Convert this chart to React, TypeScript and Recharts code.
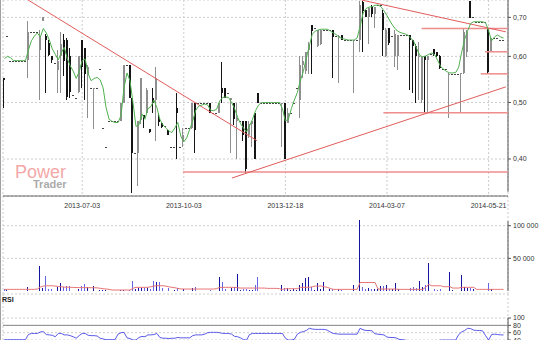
import { Bar, CartesianGrid, ComposedChart, Line, ReferenceLine, XAxis, YAxis } from "recharts";

// bar index of each labelled date (the x axis counts trading bars, not days)
const dateTicks = [26, 60, 94, 128, 162];
const dateLabels = ["2013-07-03", "2013-10-03", "2013-12-18", "2014-03-07", "2014-05-21"];
const priceTicks = [0.4, 0.5, 0.6, 0.7];
const volumeTicks = [50000, 100000];
const rsiTicks = [0, 20, 40, 60, 80, 100];

const opens = [
  0.55, 0.65, 0.59, 0.59, 0.59, 0.59, 0.59, 0.59, 0.59, 0.66,
  0.66, 0.66, 0.615, 0.69, 0.65, 0.632, 0.6, 0.585, 0.57, 0.6,
  0.64, 0.64, 0.6, 0.515, 0.51, 0.52, 0.64, 0.62, 0.56, 0.53,
  0.53, 0.53, 0.57, 0.453, 0.42, 0.465, 0.465, 0.465, 0.465, 0.465,
  0.5, 0.58, 0.58, 0.51, 0.41, 0.41, 0.465, 0.476, 0.48, 0.45,
  0.51, 0.505, 0.47, 0.462, 0.455, 0.449, 0.42, 0.42, 0.49, 0.42,
  0.43, 0.453, 0.453, 0.453, 0.5, 0.5, 0.5, 0.5, 0.5, 0.5,
  0.48, 0.48, 0.48, 0.53, 0.53, 0.52, 0.505, 0.5, 0.465, 0.465,
  0.465, 0.465, 0.44, 0.46, 0.48, 0.52, 0.5, 0.5, 0.5, 0.5,
  0.5, 0.5, 0.5, 0.5, 0.5, 0.462, 0.48, 0.5, 0.53, 0.505,
  0.58, 0.565, 0.615, 0.68, 0.67, 0.625, 0.63, 0.665, 0.665, 0.665,
  0.665, 0.65, 0.65, 0.653, 0.64, 0.64, 0.64, 0.64, 0.64, 0.64,
  0.745, 0.72, 0.7, 0.73, 0.71, 0.735, 0.735, 0.712, 0.6, 0.67,
  0.65, 0.6, 0.6, 0.653, 0.653, 0.653, 0.653, 0.64, 0.625, 0.6,
  0.505, 0.6, 0.59, 0.605, 0.617, 0.61, 0.6, 0.57, 0.57, 0.56,
  0.56, 0.56, 0.56, 0.56, 0.562, 0.61, 0.748, 0.7, 0.688, 0.688,
  0.688, 0.688, 0.671, 0.61, 0.645, 0.645, 0.64, 0.64,
];
const highs = [
  0.55, 0.65, 0.59, 0.59, 0.59, 0.59, 0.59, 0.59, 0.69, 0.66,
  0.66, 0.66, 0.665, 0.7, 0.655, 0.64, 0.6, 0.585, 0.615, 0.66,
  0.655, 0.645, 0.62, 0.515, 0.51, 0.6, 0.64, 0.62, 0.58, 0.53,
  0.53, 0.53, 0.57, 0.453, 0.42, 0.465, 0.465, 0.465, 0.465, 0.5,
  0.58, 0.58, 0.58, 0.51, 0.41, 0.465, 0.55, 0.476, 0.53, 0.45,
  0.53, 0.575, 0.48, 0.462, 0.455, 0.449, 0.42, 0.42, 0.52, 0.42,
  0.453, 0.453, 0.453, 0.5, 0.5, 0.5, 0.5, 0.5, 0.5, 0.5,
  0.48, 0.48, 0.5, 0.587, 0.53, 0.52, 0.51, 0.5, 0.5, 0.465,
  0.465, 0.465, 0.465, 0.465, 0.48, 0.52, 0.5, 0.5, 0.5, 0.5,
  0.5, 0.5, 0.5, 0.5, 0.5, 0.49, 0.48, 0.5, 0.53, 0.6,
  0.6, 0.61, 0.635, 0.68, 0.67, 0.667, 0.667, 0.665, 0.665, 0.665,
  0.665, 0.65, 0.653, 0.653, 0.64, 0.64, 0.64, 0.64, 0.64, 0.748,
  0.748, 0.72, 0.73, 0.735, 0.73, 0.735, 0.735, 0.72, 0.671, 0.67,
  0.65, 0.666, 0.653, 0.653, 0.653, 0.653, 0.653, 0.64, 0.63, 0.635,
  0.6, 0.6, 0.6, 0.605, 0.617, 0.61, 0.603, 0.57, 0.57, 0.562,
  0.56, 0.56, 0.56, 0.562, 0.671, 0.666, 0.748, 0.7, 0.688, 0.688,
  0.688, 0.688, 0.671, 0.648, 0.645, 0.645, 0.64, 0.64,
];
const lows = [
  0.49, 0.65, 0.59, 0.59, 0.59, 0.59, 0.59, 0.59, 0.55, 0.66,
  0.66, 0.66, 0.505, 0.69, 0.52, 0.6, 0.585, 0.585, 0.52, 0.52,
  0.555, 0.505, 0.51, 0.515, 0.51, 0.52, 0.53, 0.505, 0.47, 0.53,
  0.45, 0.53, 0.57, 0.453, 0.42, 0.465, 0.465, 0.465, 0.465, 0.465,
  0.5, 0.58, 0.51, 0.35, 0.41, 0.36, 0.46, 0.453, 0.48, 0.443,
  0.48, 0.43, 0.455, 0.453, 0.455, 0.44, 0.42, 0.42, 0.4, 0.42,
  0.42, 0.453, 0.453, 0.45, 0.41, 0.5, 0.5, 0.5, 0.5, 0.48,
  0.48, 0.48, 0.48, 0.5, 0.51, 0.52, 0.41, 0.458, 0.4, 0.465,
  0.43, 0.378, 0.435, 0.42, 0.4, 0.5, 0.5, 0.5, 0.5, 0.5,
  0.5, 0.5, 0.5, 0.42, 0.4, 0.462, 0.48, 0.5, 0.53, 0.47,
  0.55, 0.56, 0.56, 0.56, 0.67, 0.623, 0.628, 0.665, 0.665, 0.665,
  0.55, 0.65, 0.54, 0.64, 0.64, 0.64, 0.64, 0.52, 0.64, 0.61,
  0.61, 0.7, 0.63, 0.7, 0.67, 0.735, 0.735, 0.6, 0.598, 0.627,
  0.65, 0.576, 0.569, 0.653, 0.653, 0.653, 0.525, 0.52, 0.5, 0.505,
  0.5, 0.48, 0.48, 0.605, 0.6, 0.598, 0.57, 0.57, 0.57, 0.47,
  0.56, 0.56, 0.56, 0.48, 0.56, 0.598, 0.7, 0.7, 0.688, 0.688,
  0.688, 0.688, 0.56, 0.61, 0.645, 0.645, 0.64, 0.64,
];
const closes = [
  0.545, 0.65, 0.59, 0.59, 0.59, 0.59, 0.59, 0.59, 0.66, 0.66,
  0.66, 0.66, 0.65, 0.7, 0.64, 0.603, 0.59, 0.585, 0.59, 0.63,
  0.59, 0.51, 0.52, 0.515, 0.51, 0.6, 0.575, 0.56, 0.575, 0.53,
  0.53, 0.53, 0.57, 0.453, 0.42, 0.465, 0.465, 0.465, 0.465, 0.5,
  0.58, 0.58, 0.51, 0.41, 0.41, 0.465, 0.55, 0.47, 0.525, 0.445,
  0.5, 0.55, 0.462, 0.455, 0.455, 0.44, 0.42, 0.42, 0.48, 0.42,
  0.44, 0.453, 0.453, 0.5, 0.45, 0.5, 0.5, 0.5, 0.5, 0.48,
  0.48, 0.48, 0.5, 0.52, 0.51, 0.52, 0.51, 0.47, 0.47, 0.465,
  0.44, 0.385, 0.46, 0.465, 0.4, 0.5, 0.5, 0.5, 0.5, 0.5,
  0.5, 0.5, 0.5, 0.5, 0.4, 0.48, 0.48, 0.5, 0.53, 0.58,
  0.59, 0.61, 0.63, 0.665, 0.67, 0.665, 0.665, 0.665, 0.665, 0.665,
  0.648, 0.65, 0.65, 0.64, 0.64, 0.64, 0.64, 0.64, 0.64, 0.735,
  0.72, 0.7, 0.725, 0.71, 0.73, 0.735, 0.735, 0.666, 0.665, 0.632,
  0.65, 0.655, 0.653, 0.653, 0.653, 0.653, 0.64, 0.625, 0.6, 0.6,
  0.598, 0.59, 0.6, 0.605, 0.605, 0.6, 0.573, 0.57, 0.57, 0.56,
  0.56, 0.56, 0.56, 0.562, 0.66, 0.66, 0.7, 0.7, 0.688, 0.688,
  0.688, 0.688, 0.565, 0.645, 0.645, 0.645, 0.64, 0.64,
];
// green moving average
const priceMa = [
  0.595, 0.6, 0.597, 0.59, 0.59, 0.59, 0.59, 0.59, 0.615, 0.638,
  0.65, 0.658, 0.648, 0.67, 0.658, 0.64, 0.618, 0.605, 0.592, 0.608,
  0.622, 0.595, 0.578, 0.566, 0.55, 0.565, 0.59, 0.594, 0.56, 0.545,
  0.55, 0.552, 0.547, 0.53, 0.49, 0.468, 0.464, 0.462, 0.462, 0.475,
  0.53, 0.562, 0.545, 0.5, 0.455, 0.458, 0.478, 0.468, 0.488, 0.492,
  0.505, 0.49, 0.468, 0.458, 0.452, 0.447, 0.444, 0.452, 0.462, 0.438,
  0.428, 0.435, 0.45, 0.465, 0.485, 0.493, 0.495, 0.497, 0.495, 0.485,
  0.484, 0.487, 0.503, 0.51, 0.511, 0.51, 0.5, 0.488, 0.472, 0.46,
  0.452, 0.445, 0.456, 0.468, 0.484, 0.495, 0.5, 0.5, 0.5, 0.5,
  0.5, 0.5, 0.5, 0.488, 0.465, 0.468, 0.488, 0.505, 0.52, 0.545,
  0.565, 0.596, 0.625, 0.655, 0.663, 0.666, 0.668, 0.668, 0.668, 0.664,
  0.658, 0.654, 0.647, 0.644, 0.642, 0.64, 0.64, 0.64, 0.645, 0.675,
  0.712, 0.725, 0.729, 0.73, 0.734, 0.735, 0.73, 0.718, 0.705, 0.69,
  0.677, 0.667, 0.661, 0.658, 0.656, 0.652, 0.645, 0.636, 0.618, 0.602,
  0.599, 0.601, 0.605, 0.608, 0.604, 0.59, 0.576, 0.57, 0.565, 0.562,
  0.562, 0.563, 0.575, 0.61, 0.642, 0.664, 0.683, 0.688, 0.688, 0.688,
  0.688, 0.685, 0.665, 0.638, 0.648, 0.653, 0.648, 0.645,
];
const volumes = [
  3000, 2000, 0, 0, 0, 0, 0, 0, 5600, 0,
  0, 0, 38000, 4000, 23000, 3000, 2500, 0, 5600, 12700,
  5600, 8000, 8000, 0, 0, 3000, 7600, 10700, 6600, 0,
  8000, 0, 1500, 1500, 1500, 0, 0, 0, 0, 1500,
  2000, 0, 2000, 16000, 3000, 4000, 5000, 4000, 4600, 3500,
  15000, 14500, 14000, 4500, 0, 5000, 0, 2000, 4000, 0,
  3000, 0, 0, 4000, 6000, 0, 0, 0, 0, 2000,
  0, 0, 22000, 14300, 3000, 0, 4000, 5600, 26000, 2000,
  3000, 2500, 2000, 2000, 9000, 21000, 0, 0, 0, 0,
  0, 0, 0, 9000, 5000, 4000, 2000, 2500, 1500, 9000,
  11700, 19400, 22000, 5600, 2000, 12700, 3000, 14300, 0, 2500,
  3000, 0, 2500, 2000, 0, 0, 0, 8700, 0, 108000,
  6600, 3000, 4000, 3000, 3000, 2500, 7600, 7600, 9000, 2500,
  3000, 12750, 3000, 0, 0, 0, 4000, 5600, 4000, 16000,
  6000, 9000, 43000, 0, 3000, 2000, 2500, 0, 0, 29600,
  2000, 0, 0, 24000, 6000, 5000, 4000, 3000, 0, 0,
  0, 0, 11700, 2500, 0, 0, 0, 0,
];
const volumeMa = [
  2500, 2500, 2500, 2500, 2500, 2500, 2500, 2500, 2500, 2500,
  2500, 3000, 6000, 7500, 8000, 8000, 8000, 7500, 7000, 6500,
  6000, 5800, 5600, 5500, 5300, 5200, 5200, 5200, 5100, 5000,
  5000, 4800, 4200, 3500, 3000, 2500, 1500, 1500, 1500, 1500,
  1500, 1500, 1500, 4000, 5600, 5600, 5600, 5600, 5600, 6500,
  7600, 8000, 8100, 8000, 7500, 6500, 5600, 5000, 4000, 3200,
  3000, 3000, 3000, 3000, 3000, 3000, 3000, 3000, 3000, 3000,
  3000, 3500, 5600, 5600, 5600, 5600, 5600, 5600, 5000, 4500,
  4500, 4500, 4500, 4500, 4500, 4500, 4500, 4500, 4000, 4000,
  4000, 4000, 3500, 2500, 3500, 3500, 3500, 3500, 3500, 5600,
  5600, 5600, 5600, 6500, 7600, 7600, 7600, 6500, 5600, 4000,
  2500, 2500, 2500, 2500, 2500, 2500, 2500, 2500, 2500, 13000,
  13000, 13000, 13000, 13000, 13000, 3000, 3000, 3000, 3000, 3000,
  3000, 3000, 2500, 2500, 2500, 2500, 2500, 2500, 2500, 2500,
  2500, 6000, 10000, 8000, 8000, 8000, 8000, 6600, 6600, 6600,
  4500, 4500, 4500, 5600, 5600, 5600, 5600, 5600, 2500, 2500,
  2500, 2500, 2500, 2500, 2500, 2500, 2500, 2500,
];
const rsi = [
  41, 41, 41, 41, 41, 41, 41, 41, 55, 58,
  58, 58, 62, 63, 55, 54, 53, 49, 58, 58,
  54, 54, 52, 49, 45, 52, 58, 58, 53, 52,
  52, 51, 45, 43, 41, 41, 41, 41, 56, 60,
  61, 46, 44, 40, 40, 47, 50, 49, 54, 54,
  55, 58, 47, 45, 45, 44, 45, 45, 47, 46,
  46, 46, 46, 52, 54, 54, 54, 56, 60, 61,
  61, 61, 60, 58, 58, 58, 56, 50, 49, 46,
  41, 40, 55, 58, 58, 58, 58, 58, 58, 58,
  58, 58, 58, 58, 45, 40, 40, 42, 56, 61,
  63, 66, 72, 70, 69, 69, 69, 69, 67, 62,
  58, 57, 56, 56, 56, 56, 56, 56, 56, 72,
  68, 66, 66, 65, 57, 56, 55, 54, 48, 47,
  47, 46, 42, 41, 40, 38, 38, 38, 38, 38,
  38, 38, 38, 38, 38, 38, 40, 40, 40, 40,
  40, 40, 55, 62, 66, 72, 71, 67, 66, 66,
  65, 52, 40, 55, 56, 55, 54, 54,
];

// trend lines: [startBar, startPrice, endBar, endPrice]
const trendLines = [
  [7.9, 0.7497, 84.5, 0.43],
  [76.1, 0.371, 167.8, 0.532],
  [119.5, 0.7497, 167.8, 0.661],
];
// horizontal levels: [startBar, price], drawn to the right edge
const levels = [
  [59.7, 0.38],
  [139.6, 0.67],
  [160.8, 0.611],
  [159.4, 0.56],
  [126.8, 0.48],
];

const rows = opens.map((o, i) => ({
  i,
  o,
  h: highs[i],
  l: lows[i],
  c: closes[i],
  ma: priceMa[i],
  v: volumes[i],
  vma: volumeMa[i],
  rsi: rsi[i],
}));

const xDomain = [-0.5, rows.length + 0.5];
const xEnd = rows.length + 0.5;
const priceDomain = [0.3456, 0.7497];
const gridColor = "#cdcdcd";
const axisColor = "#555";
const tickFont = { fontSize: 7, fill: "#333" };

// thousands split by a non-breaking space so the tick text stays on one line
const spaced = (v: number) => String(v).replace(/\B(?=(\d{3})+(?!\d))/g, "\u00a0");

function Candle(props: any) {
  const { x, y, width, height, payload } = props;
  const { o, h, l, c } = payload;
  const down = c < o;
  const color = down ? "#151515" : "#8e8e8e";
  const span = Math.log(h) - Math.log(l);
  // same log mapping the axis uses, anchored on the bar the library placed
  const at = (p: number) => (span > 0 ? y + ((Math.log(h) - Math.log(p)) / span) * height : y);
  const top = at(Math.max(o, c));
  const bot = at(Math.min(o, c));
  const mid = Math.round(x + width / 2);
  return (
    <g shapeRendering="crispEdges">
      {height > 0 && <line x1={mid - 0.5} x2={mid - 0.5} y1={y} y2={y + height} stroke={color} />}
      <rect
        x={mid - 1}
        y={Math.round(top)}
        width={2}
        height={Math.max(1, Math.round(bot - top))}
        fill={span > 0 ? color : "#444"}
      />
    </g>
  );
}

function VolumeBar(props: any) {
  const { x, y, width, height, payload } = props;
  if (!height || height <= 0) return null;
  const fill = payload.c < payload.o ? "#6464e6" : "#1414a0";
  return (
    <rect
      x={Math.round(x + width / 2) - 1}
      y={y}
      width={1}
      height={height}
      fill={fill}
      shapeRendering="crispEdges"
    />
  );
}

export default function App() {
  return (
    <div
      style={{
        position: "fixed",
        left: 0,
        top: 0,
        width: 540,
        height: 340,
        overflow: "hidden",
        background: "#fff",
        fontFamily: "'Liberation Sans', Arial, sans-serif",
      }}
    >
      <div style={{ position: "absolute", left: 15, top: 165, fontSize: 18, lineHeight: "14px", color: "#f4a8a8" }}>
        Power
      </div>
      <div
        style={{
          position: "absolute",
          left: 33,
          top: 180,
          fontSize: 11,
          lineHeight: "8px",
          fontWeight: "bold",
          color: "#ababab",
        }}
      >
        Trader
      </div>

      <div style={{ position: "absolute", left: 0, top: 196 }}>
        <ComposedChart width={540} height={98} data={rows} margin={{ top: 0, right: 0, bottom: 0, left: 3 }}>
          <CartesianGrid stroke={gridColor} strokeDasharray="2 2" />
          <XAxis
            dataKey="i"
            type="number"
            domain={xDomain}
            allowDataOverflow
            ticks={dateTicks}
            height={0}
            tick={false}
            tickLine={false}
            axisLine={{ stroke: "#666" }}
          />
          <YAxis
            orientation="right"
            width={32}
            type="number"
            domain={[-4600, 145500]}
            allowDataOverflow
            ticks={volumeTicks}
            interval={0}
            tickFormatter={spaced}
            tick={tickFont}
            tickSize={3}
            tickLine={{ stroke: axisColor }}
            axisLine={false}
          />
          <ReferenceLine
            segment={[{ x: xEnd, y: 0 }, { x: xEnd, y: 107000 }]}
            stroke={axisColor}
            ifOverflow="visible"
          />
          <Bar dataKey="v" barSize={1} shape={VolumeBar} isAnimationActive={false} />
          <Line dataKey="vma" stroke="#e77272" strokeWidth={1} dot={false} isAnimationActive={false} />
        </ComposedChart>
      </div>

      <div style={{ position: "absolute", left: 0, top: 294 }}>
        <ComposedChart width={540} height={66} data={rows} margin={{ top: 0, right: 0, bottom: 0, left: 3 }}>
          <CartesianGrid stroke={gridColor} strokeDasharray="2 2" />
          <XAxis
            dataKey="i"
            type="number"
            domain={xDomain}
            allowDataOverflow
            ticks={dateTicks}
            height={0}
            tick={false}
            tickLine={false}
            axisLine={false}
          />
          <YAxis
            orientation="right"
            width={32}
            type="number"
            domain={[-14.3, 165.3]}
            allowDataOverflow
            ticks={rsiTicks}
            interval={0}
            tick={tickFont}
            tickSize={3}
            tickLine={{ stroke: axisColor }}
            axisLine={false}
          />
          <ReferenceLine
            segment={[{ x: xEnd, y: 100 }, { x: xEnd, y: -14 }]}
            stroke={axisColor}
            ifOverflow="visible"
          />
          <ReferenceLine y={80} stroke="#888" />
          <Line dataKey="rsi" stroke="#5a5aea" strokeWidth={1} dot={false} isAnimationActive={false} />
        </ComposedChart>
      </div>

      <div style={{ position: "absolute", left: 0, top: 0 }}>
        <ComposedChart width={540} height={214} data={rows} margin={{ top: 0, right: 0, bottom: 0, left: 3 }}>
          <CartesianGrid stroke={gridColor} strokeDasharray="2 2" />
          <XAxis
            dataKey="i"
            type="number"
            domain={xDomain}
            allowDataOverflow
            ticks={dateTicks}
            interval={0}
            tickFormatter={(v: number) => dateLabels[dateTicks.indexOf(v)] ?? ""}
            height={18}
            tick={tickFont}
            tickSize={5}
            tickLine={false}
            axisLine={{ stroke: "#666" }}
          />
          <YAxis
            orientation="right"
            width={32}
            type="number"
            scale="log"
            domain={priceDomain}
            allowDataOverflow
            ticks={priceTicks}
            interval={0}
            tickFormatter={(v: number) => v.toFixed(2).replace(".", ",")}
            tick={tickFont}
            tickSize={3}
            tickLine={{ stroke: axisColor }}
            axisLine={false}
          />
          <ReferenceLine
            segment={[{ x: xEnd, y: priceDomain[1] }, { x: xEnd, y: 0.3514 }]}
            stroke={axisColor}
            ifOverflow="visible"
          />
          {levels.map(([start, p], k) => (
            <ReferenceLine
              key={`lv${k}`}
              segment={[{ x: start, y: p }, { x: xEnd, y: p }]}
              stroke="#ef8c8c"
              strokeWidth={1.5}
              ifOverflow="visible"
            />
          ))}
          {trendLines.map(([x1, y1, x2, y2], k) => (
            <ReferenceLine
              key={`tl${k}`}
              segment={[{ x: x1, y: y1 }, { x: x2, y: y2 }]}
              stroke="#e25c5c"
              strokeWidth={1}
              ifOverflow="visible"
            />
          ))}
          <Bar dataKey={(d: any) => [d.l, d.h]} barSize={2} shape={Candle} isAnimationActive={false} />
          <Line dataKey="ma" stroke="#4fb04f" strokeWidth={1} dot={false} isAnimationActive={false} />
        </ComposedChart>
      </div>

      <div style={{ position: "absolute", left: 2, top: 296, fontSize: 7, fontWeight: "bold", color: "#222" }}>
        RSI
      </div>
      <div style={{ position: "absolute", left: 0, top: 0, width: 1, height: 340, background: "#a0a0a0" }} />
    </div>
  );
}
